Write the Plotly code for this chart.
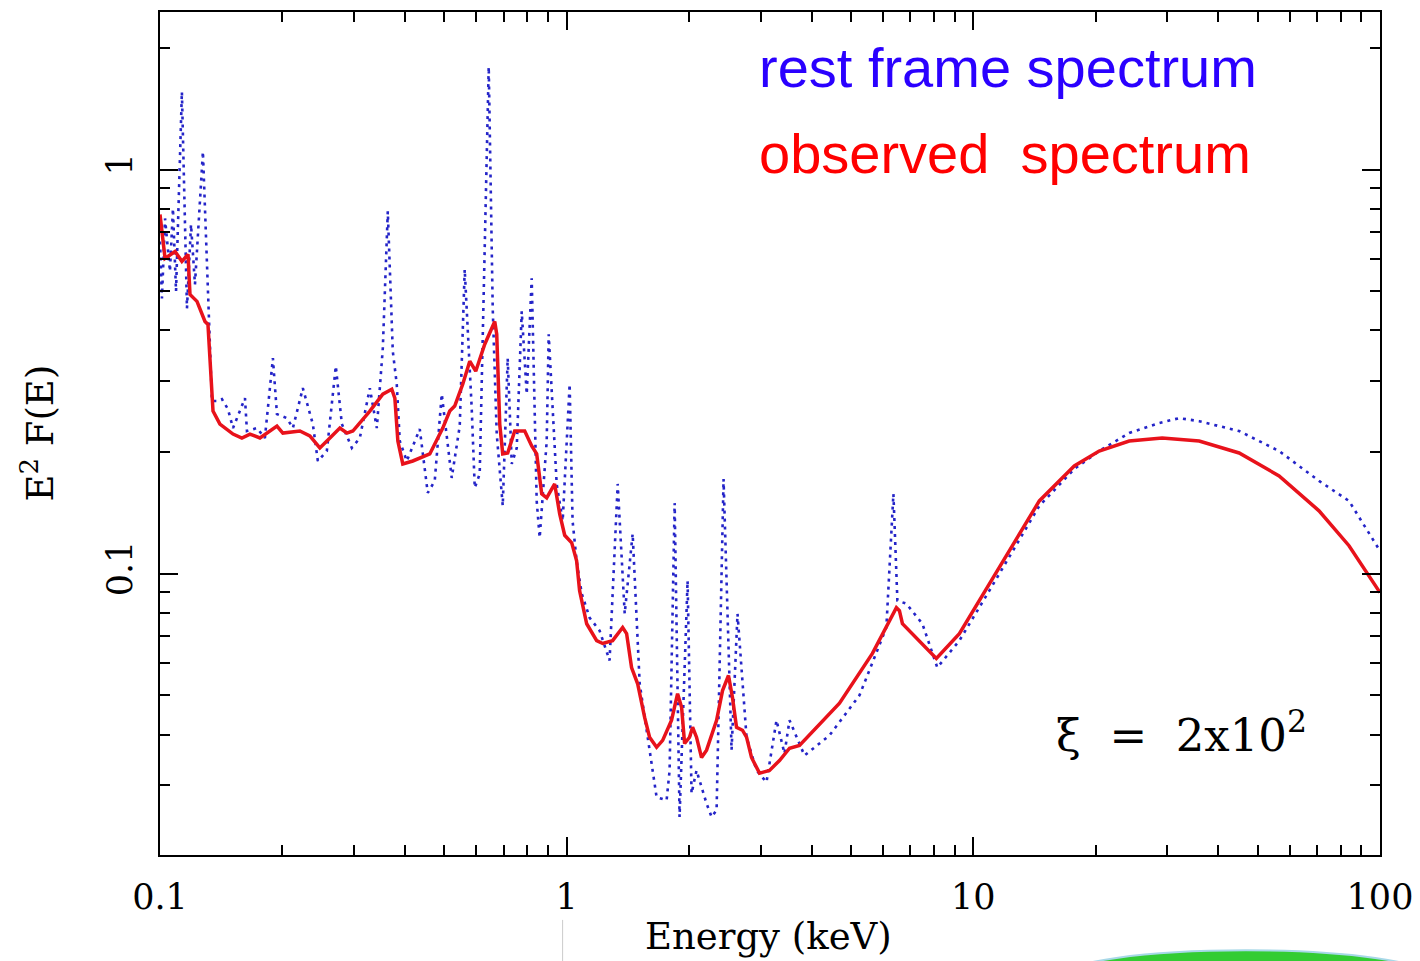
import plotly.graph_objects as go

# ---- data (energy in keV, E^2 F(E)) ----
red_E = [0.1, 0.1029, 0.1089, 0.1132, 0.1172, 0.1185, 0.1233, 0.1290, 0.1312, 0.1342,
         0.1350, 0.1404, 0.1512, 0.1590, 0.1664, 0.1761, 0.1939, 0.2005, 0.2208, 0.2336,
         0.2472, 0.2617, 0.2769, 0.2882, 0.2980, 0.3281, 0.3531, 0.3715, 0.378, 0.3845,
         0.3954, 0.4184, 0.4607, 0.4958, 0.5158, 0.5305, 0.5552, 0.5777, 0.5976, 0.6289,
         0.6655, 0.673, 0.6846, 0.6963, 0.7161, 0.7451, 0.7885, 0.8204, 0.8439, 0.8682,
         0.8931, 0.9344, 0.9612, 0.989, 1.029, 1.058, 1.076, 1.120, 1.185, 1.226,
         1.297, 1.373, 1.404, 1.444, 1.494, 1.555, 1.599, 1.664, 1.722, 1.811,
         1.874, 1.917, 1.950, 2.005, 2.040, 2.086, 2.146, 2.208, 2.337, 2.417,
         2.500, 2.557, 2.616, 2.706, 2.769, 2.848, 2.980, 3.153, 3.337, 3.532,
         3.737, 4.687, 5.648, 6.468, 6.58, 6.693, 8.11, 9.24, 10.95, 14.53,
         17.71, 20.39, 24.17, 29.13, 35.92, 45.04, 56.48, 70.8, 83.9, 92.9, 100.0]
red_F = [0.774, 0.603, 0.627, 0.593, 0.617, 0.491, 0.472, 0.421, 0.414, 0.2945,
         0.2526, 0.2346, 0.2216, 0.2167, 0.2216, 0.2167, 0.2319, 0.2229, 0.2255, 0.2192,
         0.2048, 0.2167, 0.2293, 0.2229, 0.2255, 0.2526, 0.2783, 0.2862, 0.272, 0.2130,
         0.1869, 0.1901, 0.1979, 0.2293, 0.2526, 0.260, 0.2945, 0.3357, 0.3171, 0.3698,
         0.421, 0.3914, 0.2346, 0.1979, 0.1990, 0.2255, 0.2255, 0.2071, 0.1979, 0.1576,
         0.1540, 0.1668, 0.1406, 0.1245, 0.1193, 0.1076, 0.0908, 0.0752, 0.0683, 0.0672,
         0.0683, 0.0736, 0.0711, 0.0586, 0.0535, 0.0441, 0.0394, 0.0372, 0.0387, 0.0434,
         0.0505, 0.0467, 0.0380, 0.0394, 0.0417, 0.0394, 0.0351, 0.0366, 0.0434, 0.0514,
         0.0560, 0.0494, 0.0417, 0.0410, 0.0394, 0.0351, 0.0321, 0.0326, 0.0345, 0.0370,
         0.0376, 0.0478, 0.0635, 0.0824, 0.0810, 0.0752, 0.0617, 0.0711, 0.0945, 0.1514,
         0.1848, 0.2012, 0.2130, 0.2167, 0.2130, 0.1990, 0.1746, 0.1431, 0.1173, 0.1, 0.0898]

blue_E = [0.1, 0.1011, 0.1029, 0.1058, 0.1076, 0.1095, 0.1132, 0.1165, 0.1192, 0.1219,
          0.1275, 0.1312, 0.1342, 0.1380, 0.1420, 0.1469, 0.1512, 0.1618, 0.1636, 0.1731,
          0.1811, 0.1895, 0.1939, 0.2051, 0.2122, 0.2245, 0.2376, 0.2444, 0.2572, 0.2706,
          0.2800, 0.2963, 0.3100, 0.3281, 0.3413, 0.3531, 0.3632, 0.3736, 0.3821, 0.3887,
          0.4044, 0.4353, 0.4554, 0.4738, 0.4930, 0.5216, 0.5458, 0.5614, 0.5841, 0.5943,
          0.6112, 0.6432, 0.6579, 0.673, 0.6963, 0.7161, 0.7328, 0.7538, 0.7753, 0.7976,
          0.8204, 0.8439, 0.8583, 0.8931, 0.9032, 0.945, 0.9777, 1.017, 1.034, 1.058,
          1.089, 1.139, 1.205, 1.275, 1.335, 1.389, 1.453, 1.512, 1.599, 1.664,
          1.761, 1.791, 1.843, 1.895, 1.983, 2.028, 2.086, 2.208, 2.272, 2.337,
          2.431, 2.544, 2.631, 2.769, 2.930, 3.100, 3.281, 3.432, 3.532, 3.844,
          4.428, 5.248, 6.111, 6.36, 6.505, 6.845, 7.494, 8.155, 9.24, 10.95,
          14.53, 17.71, 20.39, 24.17, 28.64, 32.07, 35.92, 45.04, 56.48, 70.8, 83.9, 100.0]
blue_F = [0.664, 0.480, 0.757, 0.560, 0.801, 0.500, 1.558, 0.4536, 0.7316, 0.520,
          1.108, 0.480, 0.2675, 0.2675, 0.2705, 0.2555, 0.2293, 0.272, 0.2255, 0.2293,
          0.2167, 0.3415, 0.2483, 0.2427, 0.2293, 0.2879, 0.2346, 0.1901, 0.2012, 0.3263,
          0.2346, 0.2048, 0.2167, 0.2879, 0.2293, 0.3614, 0.788, 0.3554, 0.2945, 0.2130,
          0.1901, 0.2280, 0.1585, 0.1697, 0.2783, 0.1726, 0.2319, 0.5665, 0.2570, 0.1631,
          0.1766, 1.796, 0.4536, 0.2216, 0.1472, 0.3415, 0.1869, 0.2048, 0.446, 0.2783,
          0.538, 0.1514, 0.1227, 0.2130, 0.3914, 0.1668, 0.1351, 0.2945, 0.1351, 0.1076,
          0.0893, 0.0778, 0.0723, 0.0610, 0.1668, 0.0796, 0.1256, 0.0535, 0.0372, 0.0280,
          0.0275, 0.0326, 0.1497, 0.0250, 0.0961, 0.0286, 0.0326, 0.0270, 0.0250, 0.0260,
          0.1716, 0.0366, 0.0796, 0.0394, 0.0326, 0.0305, 0.0434, 0.0359, 0.0434, 0.0355,
          0.0398, 0.0500, 0.0736, 0.1576, 0.0858, 0.0843, 0.0752, 0.0586, 0.0683, 0.0908,
          0.1472, 0.1816, 0.2012, 0.2229, 0.2359, 0.2427, 0.2385, 0.2255, 0.2012, 0.1697, 0.1514, 0.1139]

x_tick_vals = [0.1, 1, 10, 100]
x_tick_text = ["0.1", "1", "10", "100"]
y_tick_vals = [0.1, 1]
y_tick_text = ["0.1", "1"]

x_minor = [m * 10.0 ** p for p in (-1, 0, 1) for m in range(2, 10)]
y_minor = [m * 10.0 ** p for p in (-2, -1, 0) for m in range(2, 10)]

serif = "DejaVu Serif"

fig = go.Figure()
fig.add_trace(go.Scatter(x=blue_E, y=blue_F, mode="lines",
                         line=dict(color="#2424c8", width=2.6, dash="3px,5px"),
                         showlegend=False))
fig.add_trace(go.Scatter(x=red_E, y=red_F, mode="lines",
                         line=dict(color="#e8121b", width=3.5),
                         showlegend=False))

axis_common = dict(showgrid=False, zeroline=False, showline=True, linecolor="black",
                   linewidth=2, mirror="allticks", ticks="inside", ticklen=18,
                   tickwidth=1.5, tickcolor="black")

fig.update_xaxes(type="log", range=[-1, 2], tickvals=x_tick_vals, ticktext=x_tick_text,
                 tickfont=dict(family=serif, size=35, color="black"),
                 ticklabelstandoff=10,
                 minor=dict(tickvals=x_minor, ticks="inside", ticklen=10,
                            tickwidth=1.5, tickcolor="black", showgrid=False),
                 **axis_common)
fig.update_yaxes(type="log", range=[-1.696, 0.390], tickvals=y_tick_vals, ticktext=y_tick_text,
                 tickangle=-90,
                 tickfont=dict(family=serif, size=35, color="black"),
                 ticklabelstandoff=12,
                 minor=dict(tickvals=y_minor, ticks="inside", ticklen=10,
                            tickwidth=1.5, tickcolor="black", showgrid=False),
                 **axis_common)

annotations = [
    dict(text="rest frame spectrum", x=0.489, y=0.934, xref="paper", yref="paper",
         xanchor="left", yanchor="middle", showarrow=False,
         font=dict(family="Liberation Sans", size=56, color="#2a00ff")),
    dict(text="observed\u00a0 spectrum", x=0.489, y=0.832, xref="paper", yref="paper",
         xanchor="left", yanchor="middle", showarrow=False,
         font=dict(family="Liberation Sans", size=56, color="#ff0000")),
    dict(text="\u03be\u00a0 =\u00a0 2x10<sup>2</sup>", x=0.837, y=0.145, xref="paper", yref="paper",
         xanchor="center", yanchor="middle", showarrow=False,
         font=dict(family=serif, size=45, color="black")),
    dict(text="Energy (keV)", x=0.499, y=-0.097, xref="paper", yref="paper",
         xanchor="center", yanchor="middle", showarrow=False,
         font=dict(family=serif, size=37, color="black")),
    dict(text="E<sup>2</sup> F(E)", x=-0.100, y=0.50, xref="paper", yref="paper",
         xanchor="center", yanchor="middle", showarrow=False, textangle=-90,
         font=dict(family=serif, size=37, color="black")),
]

shapes = [
    dict(type="circle", xref="paper", yref="paper",
         x0=0.74, x1=1.04, y0=-0.175, y1=-0.113,
         fillcolor="#33cc33", line=dict(color="#a8d8e8", width=2), layer="above"),
    dict(type="line", xref="paper", yref="paper", x0=0.330, x1=0.330, y0=-0.077, y1=-0.13,
         line=dict(color="#cccccc", width=1)),
]

# the page adds an 8px body margin, so the figure is 8px smaller and margins shifted
fig.update_layout(width=1412, height=953, margin=dict(l=152, r=40, t=2, b=106),
                  paper_bgcolor="white", plot_bgcolor="white",
                  annotations=annotations, shapes=shapes)

fig.write_html("out.html")
